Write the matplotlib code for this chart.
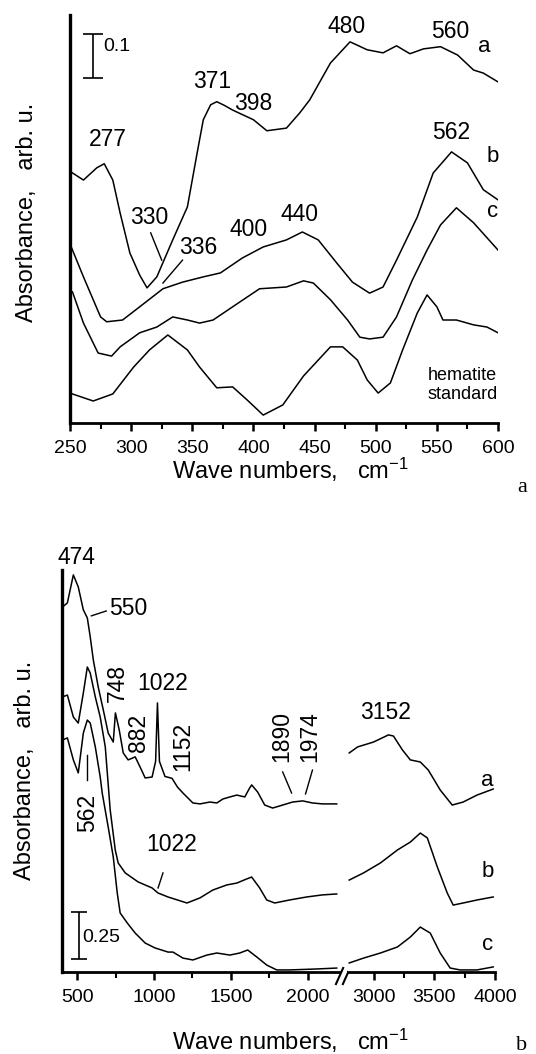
import matplotlib.pyplot as plt
from matplotlib.ticker import MultipleLocator

plt.rcParams['font.family'] = ['Liberation Sans', 'DejaVu Sans']
plt.rcParams['mathtext.default'] = 'regular'

# ---- panel a: 250-600 cm-1 ----
a_wn = [251, 261, 272, 278, 285, 291, 299, 307, 313, 321, 334, 346, 354, 359, 365, 370, 376,
        383, 400, 411, 427, 438, 446, 463, 479, 493, 506, 517, 528, 539, 553, 567, 580, 588,
        600]
a_abs = [0.570, 0.552, 0.580, 0.589, 0.552, 0.477, 0.386, 0.336, 0.307, 0.332, 0.416, 0.491,
         0.614, 0.689, 0.723, 0.730, 0.722, 0.711, 0.689, 0.664, 0.670, 0.705, 0.734, 0.818,
         0.866, 0.848, 0.841, 0.857, 0.839, 0.850, 0.855, 0.836, 0.802, 0.795, 0.775]

b_wn = [251, 261, 275, 280, 293, 307, 326, 342, 359, 373, 391, 408, 427, 440, 453, 468, 481,
        495, 506, 517, 534, 547, 562, 575, 588, 600]
b_abs = [0.400, 0.332, 0.241, 0.230, 0.234, 0.264, 0.305, 0.320, 0.332, 0.341, 0.375, 0.400,
         0.416, 0.434, 0.416, 0.364, 0.320, 0.295, 0.309, 0.370, 0.468, 0.568, 0.616, 0.591,
         0.530, 0.507]

c_wn = [252, 261, 273, 284, 291, 307, 321, 334, 346, 356, 367, 383, 405, 427, 441, 449, 463,
        477, 487, 495, 506, 517, 530, 542, 553, 566, 580, 600]
c_abs = [0.298, 0.227, 0.159, 0.152, 0.173, 0.205, 0.218, 0.241, 0.234, 0.227, 0.234, 0.264,
         0.305, 0.309, 0.323, 0.318, 0.280, 0.234, 0.195, 0.191, 0.195, 0.241, 0.325, 0.393,
         0.450, 0.489, 0.455, 0.393]

hem_wn = [252, 269, 285, 302, 315, 330, 346, 356, 370, 383, 395, 408, 424, 441, 463, 473, 485,
          493, 502, 512, 522, 534, 542, 550, 555, 566, 580, 591, 600]
hem_abs = [0.066, 0.050, 0.066, 0.127, 0.166, 0.200, 0.166, 0.127, 0.080, 0.082, 0.052, 0.018,
           0.041, 0.107, 0.173, 0.173, 0.143, 0.098, 0.068, 0.091, 0.166, 0.250, 0.291, 0.264,
           0.234, 0.234, 0.223, 0.218, 0.205]

# ---- panel b: 400-4000 cm-1, broken between ~2200 and ~2800 ----
la_wn = [403, 435, 474, 506, 539, 565, 584, 604, 636, 669, 701, 734, 748, 773, 799, 831, 877,
         909, 942, 987, 1010, 1022, 1035, 1071, 1117, 1152, 1188, 1253, 1299, 1364, 1409, 1448,
         1494, 1539, 1591, 1623, 1636, 1675, 1721, 1773, 1838, 1903, 1968, 2032, 2097, 2190]
la_abs = [1.941, 1.963, 2.112, 2.048, 1.926, 1.883, 1.782, 1.660, 1.516, 1.394, 1.271, 1.223,
          1.378, 1.287, 1.165, 1.128, 1.144, 1.090, 1.032, 1.037, 1.120, 1.431, 1.120, 1.040,
          1.030, 0.984, 0.952, 0.899, 0.894, 0.904, 0.899, 0.920, 0.931, 0.941, 0.931, 0.979,
          0.995, 0.957, 0.888, 0.872, 0.888, 0.904, 0.910, 0.899, 0.894, 0.894]
ra_wn = [2800, 2869, 3000, 3123, 3164, 3238, 3303, 3385, 3451, 3549, 3648, 3738, 3852, 3985]
ra_abs = [1.165, 1.197, 1.223, 1.261, 1.255, 1.181, 1.128, 1.117, 1.074, 0.968, 0.888, 0.904,
          0.941, 0.973]

lb_wn = [403, 435, 474, 506, 539, 565, 584, 617, 649, 682, 714, 747, 766, 812, 896, 987, 1026,
         1091, 1214, 1299, 1383, 1474, 1539, 1604, 1636, 1688, 1734, 1786, 1883, 1994, 2097, 2190]
lb_abs = [1.463, 1.473, 1.356, 1.324, 1.484, 1.622, 1.590, 1.463, 1.356, 1.197, 0.862, 0.649,
          0.580, 0.527, 0.479, 0.447, 0.420, 0.399, 0.367, 0.394, 0.436, 0.463, 0.473, 0.495,
          0.505, 0.447, 0.383, 0.367, 0.383, 0.399, 0.410, 0.415]
rb_wn = [2800, 2918, 3057, 3197, 3303, 3385, 3443, 3525, 3607, 3656, 3738, 3852, 3985]
rb_abs = [0.489, 0.527, 0.580, 0.649, 0.691, 0.739, 0.713, 0.559, 0.420, 0.356, 0.367, 0.383,
          0.399]

lc_wn = [403, 435, 474, 506, 539, 565, 584, 617, 649, 662, 701, 734, 760, 779, 825, 877, 942,
         1006, 1091, 1123, 1188, 1253, 1344, 1409, 1494, 1558, 1610, 1669, 1734, 1799, 1883,
         2058, 2190]
lc_abs = [1.234, 1.245, 1.128, 1.059, 1.271, 1.340, 1.324, 1.197, 1.037, 0.952, 0.771, 0.612,
          0.420, 0.314, 0.261, 0.207, 0.154, 0.128, 0.106, 0.106, 0.074, 0.064, 0.090, 0.101,
          0.090, 0.101, 0.117, 0.080, 0.037, 0.011, 0.011, 0.016, 0.021]
rc_wn = [2800, 2918, 3057, 3197, 3303, 3385, 3467, 3549, 3631, 3713, 3852, 3985]
rc_abs = [0.048, 0.074, 0.101, 0.133, 0.186, 0.239, 0.207, 0.101, 0.021, 0.011, 0.011, 0.027]

W, H = 536, 1054
LW = 1.1
FS = 16.5


def style(ax, left=True):
    ax.spines['top'].set_visible(False)
    ax.spines['right'].set_visible(False)
    ax.spines['left'].set_visible(left)
    ax.spines['left'].set_linewidth(2.4)
    ax.spines['bottom'].set_linewidth(2.0)
    ax.set_yticks([])
    ax.tick_params(axis='x', which='major', direction='out', length=6, width=1.8,
                   labelsize=14, pad=6)
    ax.tick_params(axis='x', which='minor', direction='out', length=4, width=1.5)


fig = plt.figure(figsize=(W / 100, H / 100), dpi=100)

# top panel
ax1 = fig.add_axes([70 / W, 1 - 423 / H, 428 / W, 408 / H])
for wn, ab in [(a_wn, a_abs), (b_wn, b_abs), (c_wn, c_abs), (hem_wn, hem_abs)]:
    ax1.plot(wn, ab, color='k', lw=LW)
ax1.set_xlim(250, 600)
ax1.set_ylim(0, 0.927)
ax1.xaxis.set_major_locator(MultipleLocator(50))
ax1.xaxis.set_minor_locator(MultipleLocator(25))
style(ax1)

ax1.errorbar(269, 0.834, yerr=0.05, color='k', lw=1.2, capsize=7, capthick=1.2)
ax1.text(277, 0.855, '0.1', fontsize=14, va='center', ha='left')

for s, x, y in [('277', 281, 0.643), ('371', 366, 0.777), ('398', 400, 0.727),
                ('480', 476, 0.900), ('560', 561, 0.889), ('562', 562, 0.659),
                ('330', 315, 0.468), ('336', 355, 0.398), ('400', 396, 0.439),
                ('440', 438, 0.473)]:
    ax1.text(x, y, s, fontsize=FS, ha='center', va='center')
for s, x, y in [('a', 589, 0.855), ('b', 596, 0.605), ('c', 596, 0.480)]:
    ax1.text(x, y, s, fontsize=16, ha='center', va='center')
ax1.plot([316, 325], [0.432, 0.370], color='k', lw=1)
ax1.plot([342, 326], [0.370, 0.318], color='k', lw=1)
ax1.text(571, 0.087, 'hematite\nstandard', fontsize=13, ha='center', va='center',
         linespacing=1.15)

fig.text(27 / W, 1 - 212 / H, 'Absorbance,   arb. u.', rotation=90, fontsize=17,
         ha='center', va='center')
fig.text(290 / W, 1 - 470 / H, 'Wave numbers,   cm$^{-1}$', fontsize=17,
         ha='center', va='center')
fig.text(522 / W, 1 - 488 / H, 'a', fontsize=16, family='Liberation Serif',
         ha='center', va='center')

# bottom panel, broken x axis
ax2 = fig.add_axes([62 / W, 1 - 972 / H, 277 / W, 402 / H])
ax3 = fig.add_axes([348 / W, 1 - 972 / H, 147 / W, 402 / H])
for wn, ab in [(la_wn, la_abs), (lb_wn, lb_abs), (lc_wn, lc_abs)]:
    ax2.plot(wn, ab, color='k', lw=LW)
for wn, ab in [(ra_wn, ra_abs), (rb_wn, rb_abs), (rc_wn, rc_abs)]:
    ax3.plot(wn, ab, color='k', lw=LW)
ax2.set_xlim(400, 2205)
ax3.set_xlim(2790, 4000)
for ax in (ax2, ax3):
    ax.set_ylim(0, 2.138)
    ax.xaxis.set_major_locator(MultipleLocator(500))
    ax.xaxis.set_minor_locator(MultipleLocator(250))
style(ax2)
style(ax3, left=False)
ax3.set_xticks([3000, 3500, 4000])

# break marks
for x0 in (0.989, 1.014):
    ax2.plot([x0, x0 + 0.026], [-0.030, 0.010], transform=ax2.transAxes, color='k',
             lw=1.5, clip_on=False)

ax2.errorbar(513, 0.194, yerr=0.125, color='k', lw=1.2, capsize=6, capthick=1.2)
ax2.text(532, 0.186, '0.25', fontsize=14, va='center', ha='left')

ax2.text(494, 2.207, '474', fontsize=FS, ha='center', va='center', clip_on=False)
ax2.text(708, 1.931, '550', fontsize=FS, ha='left', va='center')
ax2.plot([591, 688], [1.894, 1.920], color='k', lw=1)
ax2.text(1058, 1.537, '1022', fontsize=FS, ha='center', va='center')
ax2.text(1117, 0.676, '1022', fontsize=FS, ha='center', va='center')
ax2.plot([1058, 1026], [0.527, 0.447], color='k', lw=1)
for s, x, y in [('748', 760, 1.537), ('882', 896, 1.271), ('1152', 1188, 1.197),
                ('1890', 1831, 1.250), ('1974', 2013, 1.250), ('562', 565, 0.846)]:
    ax2.text(x, y, s, fontsize=FS, ha='center', va='center', rotation=90)
ax2.plot([1838, 1896], [1.064, 0.952], color='k', lw=1)
ax2.plot([2032, 1987], [1.074, 0.947], color='k', lw=1)
ax2.plot([565, 565], [1.154, 1.021], color='k', lw=1)

ax3.text(3098, 1.378, '3152', fontsize=FS, ha='center', va='center')
for s, x, y in [('a', 3934, 1.021), ('b', 3943, 0.532), ('c', 3943, 0.144)]:
    ax3.text(x, y, s, fontsize=16, ha='center', va='center')

fig.text(25 / W, 1 - 770 / H, 'Absorbance,   arb. u.', rotation=90, fontsize=17,
         ha='center', va='center')
fig.text(290 / W, 1 - 1041 / H, 'Wave numbers,   cm$^{-1}$', fontsize=17,
         ha='center', va='center')
fig.text(522 / W, 1 - 1045 / H, 'b', fontsize=16, family='Liberation Serif',
         ha='center', va='center')

fig.savefig('out.png', dpi=100)
